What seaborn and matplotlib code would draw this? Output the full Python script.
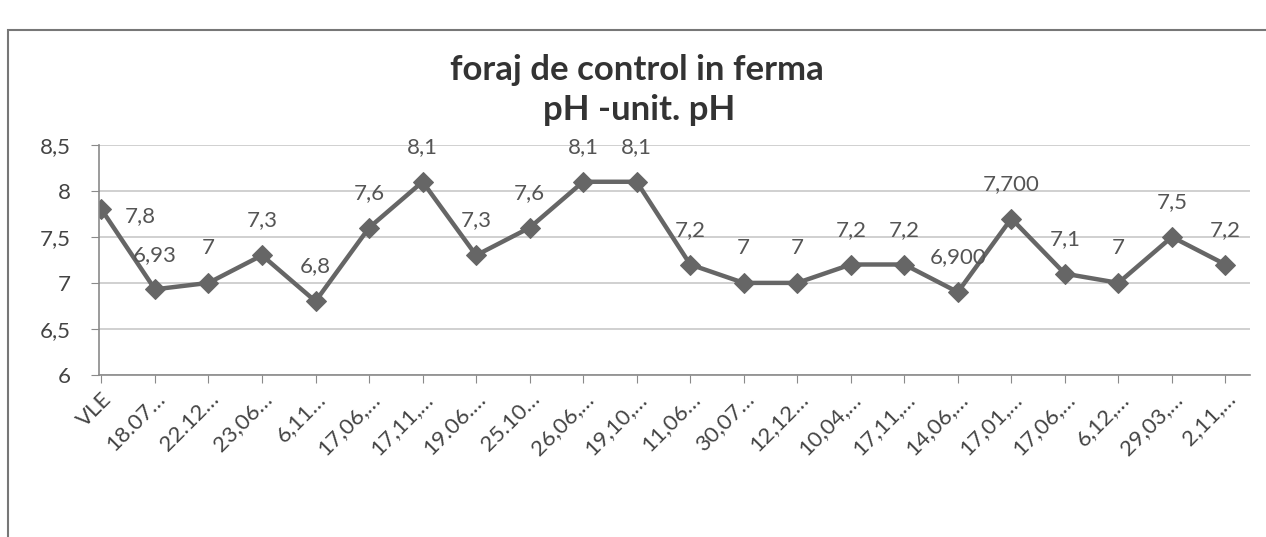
import numpy as np
import pandas as pd
import seaborn as sns
import matplotlib.pyplot as plt
from matplotlib.patches import Rectangle

# date de prelevare (etichete trunchiate ca in grafic)
categorii = ['VLE', '18.07…', '22.12…', '23,06…', '6,11…', '17,06,…', '17,11,…',
             '19.06.…', '25.10…', '26,06,…', '19,10,…', '11,06…', '30,07…', '12,12…',
             '10,04,…', '17,11,…', '14,06,…', '17,01,…', '17,06,…', '6,12,…',
             '29,03,…', '2,11,…']
valori_ph = [7.8, 6.93, 7.0, 7.3, 6.8, 7.6, 8.1, 7.3, 7.6, 8.1, 8.1, 7.2, 7.0, 7.0,
             7.2, 7.2, 6.9, 7.7, 7.1, 7.0, 7.5, 7.2]
etichete_valori = ['7,8', '6,93', '7', '7,3', '6,8', '7,6', '8,1', '7,3', '7,6', '8,1',
                   '8,1', '7,2', '7', '7', '7,2', '7,2', '6,900', '7,700', '7,1', '7',
                   '7,5', '7,2']
y_ticks = [6, 6.5, 7, 7.5, 8, 8.5]
y_tick_labels = ['6', '6,5', '7', '7,5', '8', '8,5']

sns.set_style('white')
plt.rcParams['font.family'] = ['Lato', 'DejaVu Sans']

dados = pd.DataFrame({'idx': np.arange(len(categorii)), 'ph': valori_ph})

fig = plt.figure(figsize=(12.66, 5.37), dpi=100)
ax = fig.add_axes([0.078, 0.302, 0.909, 0.428])

sns.lineplot(x='idx', y='ph', data=dados, ax=ax, color='#666666', linewidth=3.2,
             marker='D', markersize=10, markeredgecolor='#666666')

# etichete de date
for i, (v, t) in enumerate(zip(valori_ph, etichete_valori)):
    if i == 0:
        ax.annotate(t, (i, v), xytext=(28, -5), textcoords='offset points',
                    ha='center', va='center', fontsize=16, color='#555555')
    else:
        ax.annotate(t, (i, v), xytext=(0, 25), textcoords='offset points',
                    ha='center', va='center', fontsize=16, color='#555555')

ax.set_xlim(-0.05, 21.45)
ax.set_ylim(6, 8.5)
ax.set_yticks(y_ticks)
ax.set_yticklabels(y_tick_labels, fontsize=16, color='#444444')
ax.set_xticks(range(len(categorii)))
ax.set_xticklabels(categorii, rotation=45, ha='right', rotation_mode='anchor',
                   fontsize=16, color='#444444')
ax.set_xlabel('')
ax.set_ylabel('')
ax.grid(axis='y', color='#c8c8c8', linewidth=1.2)
ax.grid(axis='x', visible=False)
for s in ['top', 'right']:
    ax.spines[s].set_visible(False)
for s in ['left', 'bottom']:
    ax.spines[s].set_color('#8a8a8a')
    ax.spines[s].set_linewidth(1.2)
ax.tick_params(axis='x', direction='out', length=6, color='#8a8a8a', bottom=True, pad=4)
ax.tick_params(axis='y', direction='out', length=6, color='#8a8a8a', left=True, pad=14)

fig.text(0.503, 0.87, 'foraj de control in ferma', ha='center', va='center',
         fontsize=25, fontweight='bold', color='#333333')
fig.text(0.505, 0.795, 'pH -unit. pH', ha='center', va='center',
         fontsize=25, fontweight='bold', color='#333333')

fig.patches.append(Rectangle((0.006, -0.01), 1.0, 0.955, transform=fig.transFigure,
                             fill=False, edgecolor='#777777', linewidth=1.5))

plt.savefig('out.png', dpi=100)
